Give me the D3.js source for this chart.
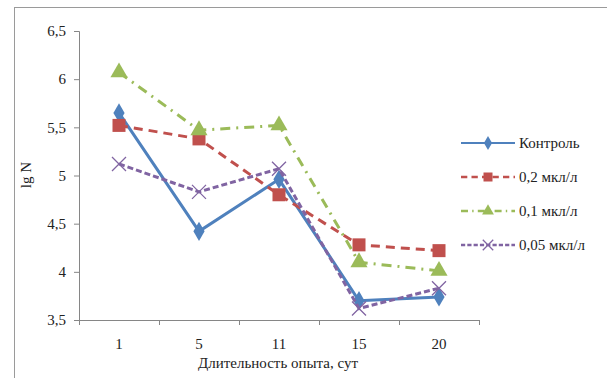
<!DOCTYPE html>
<html><head><meta charset="utf-8">
<script src="https://cdn.jsdelivr.net/npm/d3@7"></script>
<style>body{margin:0;background:#fff}svg{display:block}</style>
</head><body><svg id="c" width="607" height="378"></svg>
<script>
const categories = ["1","5","11","15","20"];
const seriesNames = ["Контроль","0,2 мкл/л","0,1 мкл/л","0,05 мкл/л"];
const control = [5.65, 4.42, 4.96, 3.70, 3.74];
const s02 = [5.52, 5.38, 4.80, 4.28, 4.22];
const s01 = [6.07, 5.47, 5.52, 4.10, 4.01];
const s005 = [5.12, 4.83, 5.07, 3.62, 3.83];
const yTicks = [3.5, 4, 4.5, 5, 5.5, 6, 6.5];

const FONT = "Liberation Serif, Times New Roman, serif";
const series = [
  {name: seriesNames[0], values: control, color: "#4F81BD", dash: null, marker: "diamond"},
  {name: seriesNames[1], values: s02, color: "#C0504D", dash: "9,6", marker: "square"},
  {name: seriesNames[2], values: s01, color: "#9BBB59", dash: "10,6,2,6", marker: "triangle"},
  {name: seriesNames[3], values: s005, color: "#8064A2", dash: "6,3", marker: "x"}
];

const svg = d3.select("#c");
svg.append("rect").attr("x",14.5).attr("y",7.5).attr("width",600).attr("height",380)
  .attr("fill","#fff").attr("stroke","#9a9a9a").attr("stroke-width",1);

const x = d3.scaleBand().domain(categories).range([79, 479]);
const y = d3.scaleLinear().domain([3.5, 6.5]).range([320, 31]);
const fmt = d => String(d).replace(".", ",");

const yAxis = svg.append("g").attr("transform","translate(79,0)")
  .call(d3.axisLeft(y).tickValues(yTicks).tickFormat(fmt).tickSize(5).tickPadding(8));
const xAxis = svg.append("g").attr("transform","translate(0,320)")
  .call(d3.axisBottom(x).tickSize(0).tickPadding(18));
[yAxis, xAxis].forEach(g => {
  g.attr("font-family", FONT).attr("font-size", 15);
  g.select(".domain").attr("stroke","#868686");
  g.selectAll(".tick line").attr("stroke","#868686");
  g.selectAll("text").attr("fill","#222");
});
const bounds = categories.map(c => x(c)).concat([x.range()[1]]);
svg.append("g").selectAll("line").data(bounds).join("line")
  .attr("x1",d=>d+0.5).attr("x2",d=>d+0.5).attr("y1",320).attr("y2",325)
  .attr("stroke","#868686");

svg.append("text").attr("x",278).attr("y",368).attr("text-anchor","middle")
  .attr("font-family",FONT).attr("font-size",15).attr("fill","#222").text("Длительность опыта, сут");
svg.append("text").attr("transform","translate(31,175) rotate(-90)")
  .attr("text-anchor","middle").attr("font-family",FONT).attr("font-size",15).attr("fill","#222").text("lg N");

const cx = i => x(categories[i]) + x.bandwidth()/2;
const line = d3.line().x((d,i)=>cx(i)).y(d=>y(d));

function marker(g, type, color, px, py, s) {
  if (type === "diamond") {
    g.append("path").attr("d", d3.symbol(d3.symbolDiamond, s*s*0.9)()).attr("transform",`translate(${px},${py})`).attr("fill",color);
  } else if (type === "square") {
    g.append("rect").attr("x",px-s/2).attr("y",py-s/2).attr("width",s).attr("height",s).attr("fill",color);
  } else if (type === "triangle") {
    g.append("path").attr("d", d3.symbol(d3.symbolTriangle, s*s*0.75)()).attr("transform",`translate(${px},${py})`).attr("fill",color);
  } else {
    g.append("path").attr("d", d3.symbol(d3.symbolX, s*s*0.9)()).attr("transform",`translate(${px},${py})`).attr("stroke",color).attr("stroke-width",1.3).attr("fill","none");
  }
}

series.forEach(s => {
  const g = svg.append("g");
  g.append("path").datum(s.values).attr("d", line).attr("fill","none")
    .attr("stroke", s.color).attr("stroke-width",3).attr("stroke-dasharray", s.dash);
  s.values.forEach((v,i) => marker(g, s.marker, s.color, cx(i), y(v), s.marker==="diamond"?11:(s.marker==="x"?12:13)));
});

const lg = svg.append("g");
series.forEach((s,i) => {
  const ly = 143 + i*34;
  lg.append("line").attr("x1",461).attr("x2",515).attr("y1",ly).attr("y2",ly)
    .attr("stroke",s.color).attr("stroke-width", s.marker==="diamond"?2:2.5).attr("stroke-dasharray", s.dash ? s.dash.split(",").map(d=>d*0.7).join(",") : null);
  marker(lg, s.marker, s.color, 488, ly, s.marker==="diamond"?8:9);
  lg.append("text").attr("x",519).attr("y",ly+5).attr("font-family",FONT).attr("font-size",15).attr("fill","#222").text(s.name);
});
</script></body></html>
